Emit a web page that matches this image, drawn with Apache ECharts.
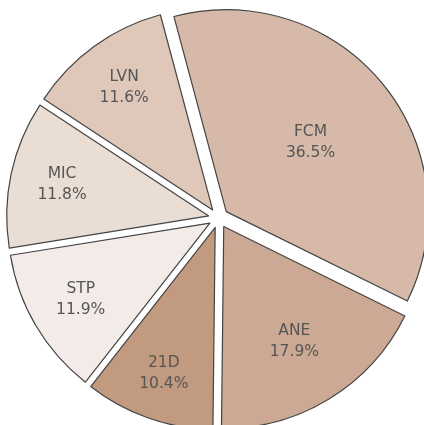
<!DOCTYPE html>
<html>
<head>
<meta charset="utf-8">
<script src="https://cdn.jsdelivr.net/npm/echarts@6/dist/echarts.min.js"></script>
<style>
  html, body { margin: 0; padding: 0; background: #fff; }
  #chart { width: 424px; height: 425px; }
</style>
</head>
<body>
<div id="chart"></div>
<script>
const names = ['FCM', 'ANE', '21D', 'STP', 'MIC', 'LVN']
const values = [36.5, 17.9, 10.4, 11.9, 11.8, 11.6]
const colors = ['#d6b9a8', '#cca994', '#c19a80', '#f3ebe7', '#e9ddd4', '#dfc8ba']
// how far each label sits from the slice tip (px)
const labelDist = [106, 132, 152, 147, 147, 148]

const R = 202
const center = [218.5, 218]

const chart = echarts.init(document.getElementById('chart'))

const base = {
	type: 'pie',
	center,
	startAngle: 105,
	clockwise: true,
	selectedMode: 'multiple',
	selectedOffset: 10,
	animation: false,
	labelLine: { show: false }
}

// visible slices
const series = [
	{
		...base,
		radius: [0, R],
		itemStyle: { borderColor: '#444', borderWidth: 1.2 },
		label: { show: false },
		emphasis: { disabled: true },
		data: names.map((n, i) => ({
			name: n,
			value: values[i],
			selected: true,
			itemStyle: { color: colors[i] }
		}))
	}
]

// transparent copies, one per slice, only to place that slice's label
names.forEach((_, k) => {
	series.push({
		...base,
		silent: true,
		radius: [2 * labelDist[k] - R, R],
		itemStyle: { color: 'rgba(0,0,0,0)', borderWidth: 0 },
		emphasis: { disabled: true },
		label: {
			position: 'inner',
			fontFamily: 'DejaVu Sans',
			fontSize: 15.5,
			lineHeight: 21,
			color: '#555',
			formatter: (p) => p.name + '\n' + p.value.toFixed(1) + '%'
		},
		data: names.map((n, i) => ({
			name: n,
			value: values[i],
			selected: true,
			label: { show: i === k }
		}))
	})
})

chart.setOption({ series })
</script>
</body>
</html>
